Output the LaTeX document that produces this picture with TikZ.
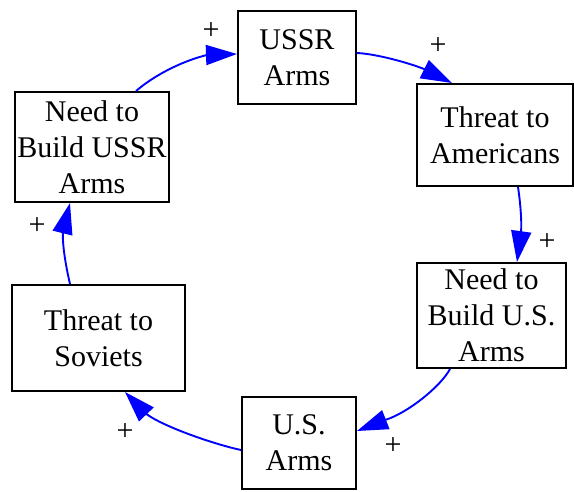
\documentclass[tikz,border=0pt]{standalone}
\usepackage{fontspec}
\setmainfont{Liberation Serif}
\usetikzlibrary{arrows.meta}
\begin{document}
\begin{tikzpicture}[x=1pt,y=1pt,
  box/.style={draw=black, line width=2pt, align=center, inner sep=0pt,
    font=\fontsize{30}{36}\selectfont},
  link/.style={draw=blue, line width=1.9pt,
    -{Triangle[length=31pt,width=20pt]}},
  sign/.style={font=\fontsize{30}{36}\selectfont, inner sep=0pt}]
\useasboundingbox (0,0) rectangle (574,-492);

% the six stages of the arms race loop
\node[box, minimum width=118pt, minimum height=93pt]  (ussr)      at (297,-57.5)  {USSR\\Arms};
\node[box, minimum width=156pt, minimum height=102pt] (threatam)  at (495,-135)   {Threat to\\Americans};
\node[box, minimum width=149pt, minimum height=105pt] (needus)    at (491.5,-315.5) {Need to\\Build U.S.\\Arms};
\node[box, minimum width=114pt, minimum height=92pt]  (usarms)    at (299,-443)   {U.S.\\Arms};
\node[box, minimum width=173pt, minimum height=106pt] (threatsov) at (98.5,-338)  {Threat to\\Soviets};
\node[box, minimum width=154pt, minimum height=110pt] (needussr)  at (92,-147)    {Need to\\Build USSR\\Arms};

% causal links: a curve up to the arrow base, then the straight arrowhead
\draw[link] ([xshift=44pt]needussr.north) .. controls (157,-73) and (186,-60) .. (207,-55)
  -- ([yshift=3.5pt]ussr.west);
\draw[link] ([yshift=4.5pt]ussr.east) .. controls (377,-54) and (409,-63) .. (424,-69)
  -- ([xshift=-43pt]threatam.north);
\draw[link] ([xshift=23pt]threatam.south) .. controls (520,-200) and (522,-220) .. (521,-233)
  -- ([xshift=25.5pt]needus.north);
\draw[link] ([xshift=-41.5pt]needus.south) .. controls (441,-386) and (408,-413) .. (385,-420)
  -- ([yshift=12pt]usarms.east);
\draw[link] ([yshift=-7pt]usarms.west) .. controls (217,-445) and (163,-427) .. (145,-413)
  -- ([xshift=26.5pt]threatsov.south);
\draw[link] ([xshift=-28.5pt]threatsov.north) .. controls (66,-267) and (62,-244) .. (63,-231)
  -- ([xshift=-22pt]needussr.south);

% link polarities
\node[sign] (s1) at (211,-31)  {+};
\node[sign] (s2) at (438,-46)  {+};
\node[sign] (s3) at (547,-242) {+};
\node[sign] (s4) at (393,-446) {+};
\node[sign] (s5) at (125,-432) {+};
\node[sign] (s6) at (37,-226)  {+};
\end{tikzpicture}
\end{document}
